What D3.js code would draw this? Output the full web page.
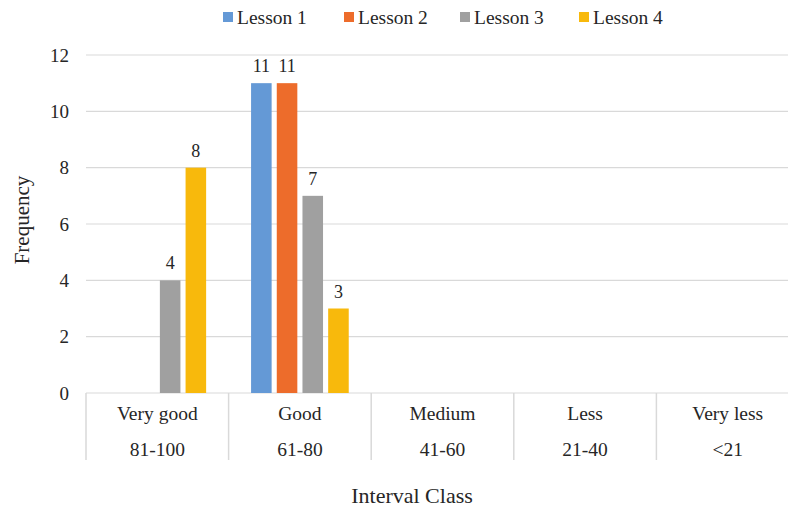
<!DOCTYPE html>
<html>
<head>
<meta charset="utf-8">
<script src="https://cdn.jsdelivr.net/npm/d3@7"></script>
<style>
  body { margin: 0; background: #fff; }
</style>
</head>
<body>
<svg id="chart" width="788" height="510"></svg>
<script>
const categories = ["Very good", "Good", "Medium", "Less", "Very less"];
const ranges = ["81-100", "61-80", "41-60", "21-40", "<21"];
const seriesNames = ["Lesson 1", "Lesson 2", "Lesson 3", "Lesson 4"];
const lesson1 = [null, 11, null, null, null];
const lesson2 = [null, 11, null, null, null];
const lesson3 = [4, 7, null, null, null];
const lesson4 = [8, 3, null, null, null];
const yTicks = [0, 2, 4, 6, 8, 10, 12];
const colors = ["#6499d6", "#ed6c2b", "#a0a0a0", "#f8b90c"];

const seriesValues = [lesson1, lesson2, lesson3, lesson4];
const svg = d3.select("#chart");
const FONT = '"Liberation Serif"';
const TXT = "#262626";

const plotLeft = 86, bandW = 142.6, plotTop = 55, plotBottom = 393;
const x0 = d3.scaleBand().domain(categories).range([plotLeft, plotLeft + bandW * categories.length]).padding(0);
const y = d3.scaleLinear().domain([0, 12]).range([plotBottom, plotTop]);
const groupW = 102.8;
const x1 = d3.scaleBand().domain(seriesNames).range([0, groupW]).paddingInner(0.2).paddingOuter(0.1);

function txt(sel, size) {
  return sel.style("font-family", FONT).style("font-size", size + "px").attr("fill", TXT);
}

// gridlines
svg.append("g").selectAll("line").data(yTicks).join("line")
  .attr("x1", plotLeft).attr("x2", 788)
  .attr("y1", d => y(d)).attr("y2", d => y(d))
  .attr("stroke", "#d9d9d9").attr("stroke-width", 1.2);

// y tick labels
txt(svg.append("g").selectAll("text").data(yTicks).join("text")
  .attr("x", 69).attr("y", d => y(d)).attr("dy", "0.35em")
  .attr("text-anchor", "end"), 19)
  .text(d => d);

// bars
const groups = svg.append("g").selectAll("g").data(categories).join("g")
  .attr("transform", c => `translate(${x0(c) + x0.bandwidth() / 2 - groupW / 2},0)`);

groups.each(function(c, ci) {
  const g = d3.select(this);
  const data = seriesNames.map((s, si) => ({ s, si, v: seriesValues[si][ci] })).filter(d => d.v != null);
  g.selectAll("rect").data(data).join("rect")
    .attr("x", d => x1(d.s)).attr("width", x1.bandwidth())
    .attr("y", d => y(d.v)).attr("height", d => y(0) - y(d.v))
    .attr("fill", d => colors[d.si]);
  txt(g.selectAll("text").data(data).join("text")
    .attr("x", d => x1(d.s) + x1.bandwidth() / 2).attr("y", d => y(d.v) - 11)
    .attr("text-anchor", "middle"), 18)
    .text(d => d.v);
});

// table dividers
const dividers = d3.range(categories.length + 1).map(i => plotLeft + i * bandW);
svg.append("g").selectAll("line").data(dividers).join("line")
  .attr("x1", d => d).attr("x2", d => d).attr("y1", plotBottom).attr("y2", 460)
  .attr("stroke", "#d9d9d9").attr("stroke-width", 1.5);

// category labels
txt(svg.append("g").selectAll("text").data(categories).join("text")
  .attr("x", c => x0(c) + x0.bandwidth() / 2).attr("y", 413).attr("dy", "0.35em")
  .attr("text-anchor", "middle"), 19.5)
  .text(d => d);
txt(svg.append("g").selectAll("text").data(ranges).join("text")
  .attr("x", (d, i) => x0(categories[i]) + x0.bandwidth() / 2).attr("y", 449).attr("dy", "0.35em")
  .attr("text-anchor", "middle"), 19.5)
  .text(d => d);

// axis titles
txt(svg.append("text").attr("x", 412).attr("y", 495).attr("dy", "0.35em")
  .attr("text-anchor", "middle"), 22).text("Interval Class");
txt(svg.append("text").attr("transform", "translate(22,220) rotate(-90)").attr("dy", "0.35em")
  .attr("text-anchor", "middle"), 21).text("Frequency");

// legend
const legendX = [223, 344, 460, 579];
const lg = svg.append("g").selectAll("g").data(seriesNames).join("g")
  .attr("transform", (d, i) => `translate(${legendX[i]},12)`);
lg.append("rect").attr("width", 10).attr("height", 10).attr("fill", (d, i) => colors[i]);
txt(lg.append("text").attr("x", 14).attr("y", 5).attr("dy", "0.35em"), 19.5).text(d => d);
</script>
</body>
</html>
